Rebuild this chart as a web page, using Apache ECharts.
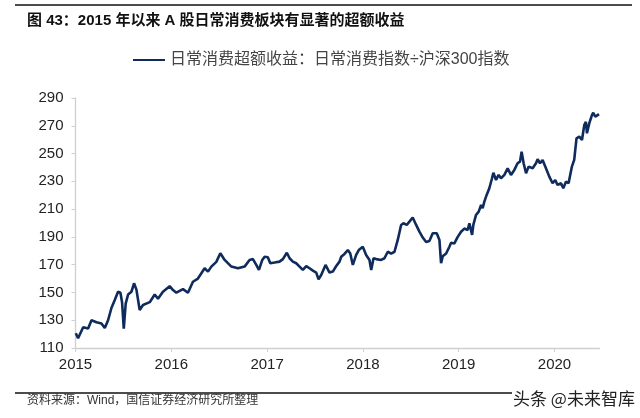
<!DOCTYPE html>
<html>
<head>
<meta charset="utf-8">
<title>日常消费超额收益</title>
<script src="https://cdn.jsdelivr.net/npm/echarts@6/dist/echarts.min.js"></script>
<style>
  html,body{margin:0;padding:0;background:#fff;}
  #chart{width:640px;height:418px;}
</style>
</head>
<body>
<div id="chart"></div>
<script>
  // 横轴位置：距 2015 年初的年数
  var yearsSince2015 = [
    0.003,0.027,0.080,0.132,0.167,0.219,0.271,0.306,0.340,0.375,0.410,0.444,0.469,0.486,0.504,0.524,
    0.549,0.584,0.611,0.636,0.670,0.705,0.775,0.827,0.861,0.913,0.983,1.018,1.053,1.122,1.174,1.226,
    1.278,1.314,1.348,1.383,1.418,1.470,1.512,1.557,1.627,1.696,1.765,1.817,1.852,1.887,1.915,1.950,
    1.974,2.008,2.033,2.078,2.130,2.165,2.206,2.235,2.269,2.304,2.339,2.373,2.409,2.443,2.478,2.513,
    2.537,2.565,2.610,2.652,2.686,2.722,2.756,2.774,2.808,2.843,2.868,2.895,2.930,2.957,2.999,3.034,
    3.069,3.087,3.111,3.139,3.191,3.225,3.260,3.295,3.330,3.364,3.399,3.423,3.458,3.486,3.520,3.556,
    3.590,3.625,3.660,3.694,3.729,3.771,3.799,3.816,3.833,3.869,3.903,3.921,3.955,3.990,4.025,4.059,
    4.094,4.112,4.140,4.153,4.181,4.209,4.234,4.250,4.268,4.292,4.320,4.348,4.362,4.390,4.417,4.442,
    4.477,4.511,4.546,4.581,4.615,4.640,4.657,4.678,4.703,4.730,4.772,4.807,4.824,4.849,4.876,4.911,
    4.946,4.980,5.008,5.032,5.068,5.092,5.120,5.147,5.182,5.206,5.230,5.259,5.287,5.311,5.328,5.339,
    5.363,5.391,5.405,5.426,5.450,5.465
  ];
  // 日常消费超额收益
  var excess = [
    120.6,117.0,125.0,124.0,130.0,128.6,127.7,124.4,130.0,138.8,144.6,150.5,149.8,143.0,124.0,142.0,
    148.5,150.5,156.6,152.0,137.4,141.0,143.0,148.5,145.5,150.5,154.5,151.7,149.8,152.4,149.8,157.7,
    160.0,163.8,167.4,165.0,168.6,172.0,178.2,173.4,168.6,167.4,168.6,173.4,174.0,169.8,166.2,173.4,
    175.7,175.3,171.0,171.5,172.2,174.0,178.6,174.6,172.2,171.0,168.6,166.2,169.0,167.4,165.7,164.3,
    159.5,162.6,169.8,164.3,165.0,169.0,172.2,175.7,177.7,180.5,178.0,169.8,177.0,180.5,182.9,177.0,
    173.4,166.2,174.6,174.0,173.4,174.6,179.3,178.0,179.3,187.8,198.6,199.8,198.6,201.0,204.0,198.6,
    193.8,189.5,186.3,187.0,192.6,192.6,187.8,171.0,176.0,178.0,182.9,185.8,185.3,190.0,193.7,196.0,
    195.0,199.8,191.4,198.6,205.8,208.2,213.0,210.6,215.4,220.2,225.0,232.2,236.2,231.0,234.6,232.2,
    234.6,239.3,234.6,238.2,243.0,244.2,251.3,243.0,235.8,240.6,239.4,243.0,245.9,243.0,245.4,239.4,
    233.4,228.6,231.0,227.4,228.6,225.0,229.8,228.6,240.6,245.4,261.0,262.2,259.8,270.5,272.9,264.6,
    271.7,277.7,279.4,276.5,277.7,278.4
  ];
  var yearTicks = [2015, 2016, 2017, 2018, 2019, 2020];
  var seriesName = '日常消费超额收益：日常消费指数÷沪深300指数';

  var points = yearsSince2015.map(function (t, i) { return [2015 + t, excess[i]]; });

  var chart = echarts.init(document.getElementById('chart'));
  var axisGray = '#cfcfcf';
  var labelFont = 'Liberation Sans, Arial, sans-serif';

  chart.setOption({
    backgroundColor: '#fff',
    animation: false,
    title: {
      text: '图 43：2015 年以来 A 股日常消费板块有显著的超额收益',
      left: 27,
      top: 13,
      padding: 0,
      textStyle: {
        fontFamily: 'Liberation Sans, Noto Sans CJK SC, sans-serif',
        fontSize: 15,
        fontWeight: 'bold',
        color: '#111'
      }
    },
    legend: {
      data: [seriesName],
      left: 133,
      top: 52,
      padding: 0,
      icon: 'rect',
      itemWidth: 32,
      itemHeight: 2,
      textStyle: {
        fontFamily: 'Liberation Sans, Noto Sans CJK SC, sans-serif',
        fontSize: 16,
        color: '#444'
      }
    },
    grid: {
      left: 75.5,
      right: 40.5,
      top: 98,
      bottom: 70
    },
    xAxis: {
      type: 'value',
      min: 2015,
      max: 2020.47,
      interval: 1,
      splitLine: { show: false },
      axisLine: { lineStyle: { color: axisGray, width: 1.3 } },
      axisTick: { show: true, length: 4, customValues: yearTicks, lineStyle: { color: axisGray } },
      axisLabel: {
        customValues: yearTicks,
        margin: 9,
        fontFamily: labelFont,
        fontSize: 15,
        color: '#222',
        formatter: function (v) { return String(v); }
      }
    },
    yAxis: {
      type: 'value',
      min: 110,
      max: 290,
      interval: 20,
      splitLine: { show: false },
      axisLine: { show: true, lineStyle: { color: axisGray, width: 1.3 } },
      axisTick: { show: true, length: 4, lineStyle: { color: axisGray } },
      axisLabel: {
        margin: 12,
        fontFamily: labelFont,
        fontSize: 15,
        color: '#222'
      }
    },
    series: [{
      name: seriesName,
      type: 'line',
      data: points,
      showSymbol: false,
      symbol: 'none',
      color: '#0f2b5c',
      lineStyle: { color: '#0f2b5c', width: 2.6 }
    }],
    graphic: [
      { type: 'line', shape: { x1: 15, y1: 5, x2: 632, y2: 5 }, style: { stroke: '#111', lineWidth: 1.5 } },
      { type: 'line', shape: { x1: 15, y1: 393, x2: 512, y2: 393 }, style: { stroke: '#111', lineWidth: 1.5 } },
      {
        type: 'text', left: 27, top: 395,
        style: {
          text: '资料来源：Wind，国信证券经济研究所整理',
          font: '12px "Liberation Sans", "Noto Sans CJK SC", sans-serif',
          fill: '#333'
        }
      },
      {
        type: 'text', left: 512, top: 389,
        style: {
          text: '头条 @未来智库',
          font: '17px "Noto Sans CJK SC", sans-serif',
          fill: '#222',
          stroke: '#fff',
          lineWidth: 2
        }
      }
    ]
  });
</script>
</body>
</html>
